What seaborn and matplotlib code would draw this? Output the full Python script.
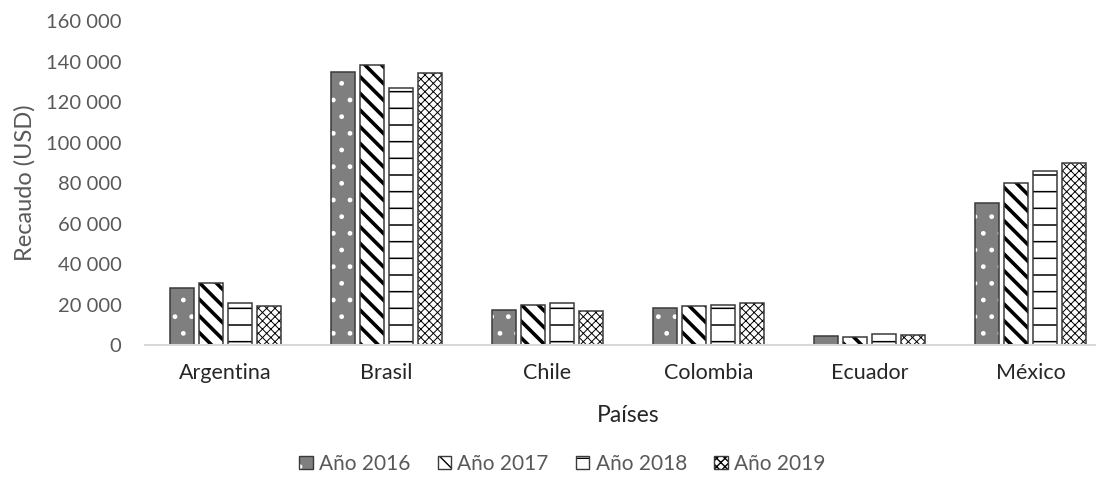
import seaborn as sns
import matplotlib.pyplot as plt
import matplotlib.patches as mpatches
import matplotlib.ticker as mticker
import pandas as pd

# values
paises = ['Argentina', 'Brasil', 'Chile', 'Colombia', 'Ecuador', 'México']
anios = ['Año 2016', 'Año 2017', 'Año 2018', 'Año 2019']
v2016 = [28100, 134800, 17300, 18300, 4400, 70000]
v2017 = [30600, 138300, 19800, 19300, 4000, 80000]
v2018 = [20700, 126900, 20700, 19800, 5400, 85900]
v2019 = [19300, 134300, 16800, 20700, 4900, 89900]

# long form table for seaborn
rows = []
for anio, vals in zip(anios, [v2016, v2017, v2018, v2019]):
    for pais, v in zip(paises, vals):
        rows.append({'País': pais, 'Año': anio, 'Recaudo': v})
df = pd.DataFrame(rows)

sns.set_style('white')
plt.rcParams['font.family'] = ['Lato', 'DejaVu Sans']
text_color = '#595959'
edge = '#3a3a3a'

# fill, hatch, hatch colour, hatch linewidth per year
styles = {
    'Año 2016': ('#7f7f7f', '.', 'white', 1.0),
    'Año 2017': ('white', '\\\\', 'black', 2.6),
    'Año 2018': ('white', '-', 'black', 1.1),
    'Año 2019': ('white', 'xxxx', 'black', 0.7),
}

fig = plt.figure(figsize=(10.96, 4.95), dpi=100)
ax = fig.add_axes([0.1323, 0.303, 0.8814, 0.6545])

sns.barplot(data=df, x='País', y='Recaudo', hue='Año', order=paises,
            hue_order=anios, palette=['white'] * 4, width=0.72, gap=0.19,
            legend=False, ax=ax)


def style_patch(p, anio):
    face, hatch, hcol, hlw = styles[anio]
    p.set_facecolor(face)
    p.set_hatch(hatch)
    p.set_edgecolor(hcol)
    p.set_linewidth(0)
    if hasattr(p, 'set_hatch_linewidth'):
        p.set_hatch_linewidth(hlw)
    else:
        plt.rcParams['hatch.linewidth'] = hlw


# seaborn adds bars hue by hue
for i, p in enumerate(ax.patches[:len(anios) * len(paises)]):
    anio = anios[i // len(paises)]
    style_patch(p, anio)
    # dark outline on top of the hatched bar
    ax.add_patch(mpatches.Rectangle((p.get_x(), p.get_y()), p.get_width(), p.get_height(),
                                    fill=False, edgecolor=edge, linewidth=1.1, zorder=p.get_zorder() + 0.1))

ax.set_ylim(0, 160000)
ax.set_xlim(-0.5, len(paises) - 0.5)
ax.yaxis.set_major_locator(mticker.MultipleLocator(20000))
ax.yaxis.set_major_formatter(mticker.FuncFormatter(lambda v, pos: f'{int(v):,}'.replace(',', ' ')))

for s in ['top', 'right', 'left']:
    ax.spines[s].set_visible(False)
ax.spines['bottom'].set_color('#d9d9d9')
ax.spines['bottom'].set_linewidth(1.5)

ax.tick_params(axis='y', length=0, pad=17, labelsize=14.5, labelcolor=text_color)
ax.tick_params(axis='x', length=0, pad=13, labelsize=15.5, labelcolor='#262626')

ax.set_ylabel('Recaudo (USD)', fontsize=17, color=text_color)
ax.yaxis.set_label_coords(-0.113, 0.5)
ax.set_xlabel('Países', fontsize=16.5, color='#262626')
ax.xaxis.set_label_coords(0.5, -0.186)

# legend with the same fills and hatches, outline drawn on top
handles = []
for anio in anios:
    h = mpatches.Patch()
    style_patch(h, anio)
    outline = mpatches.Patch(fill=False, edgecolor=edge, linewidth=1.0)
    handles.append((h, outline))
leg = fig.legend(handles=handles, labels=anios, loc='center', bbox_to_anchor=(0.513, 0.063), ncol=4,
                 frameon=False, fontsize=15, handlelength=0.65, handleheight=0.65,
                 handletextpad=0.3, columnspacing=1.3)
for t in leg.get_texts():
    t.set_color(text_color)

fig.savefig('out.png', dpi=100)
